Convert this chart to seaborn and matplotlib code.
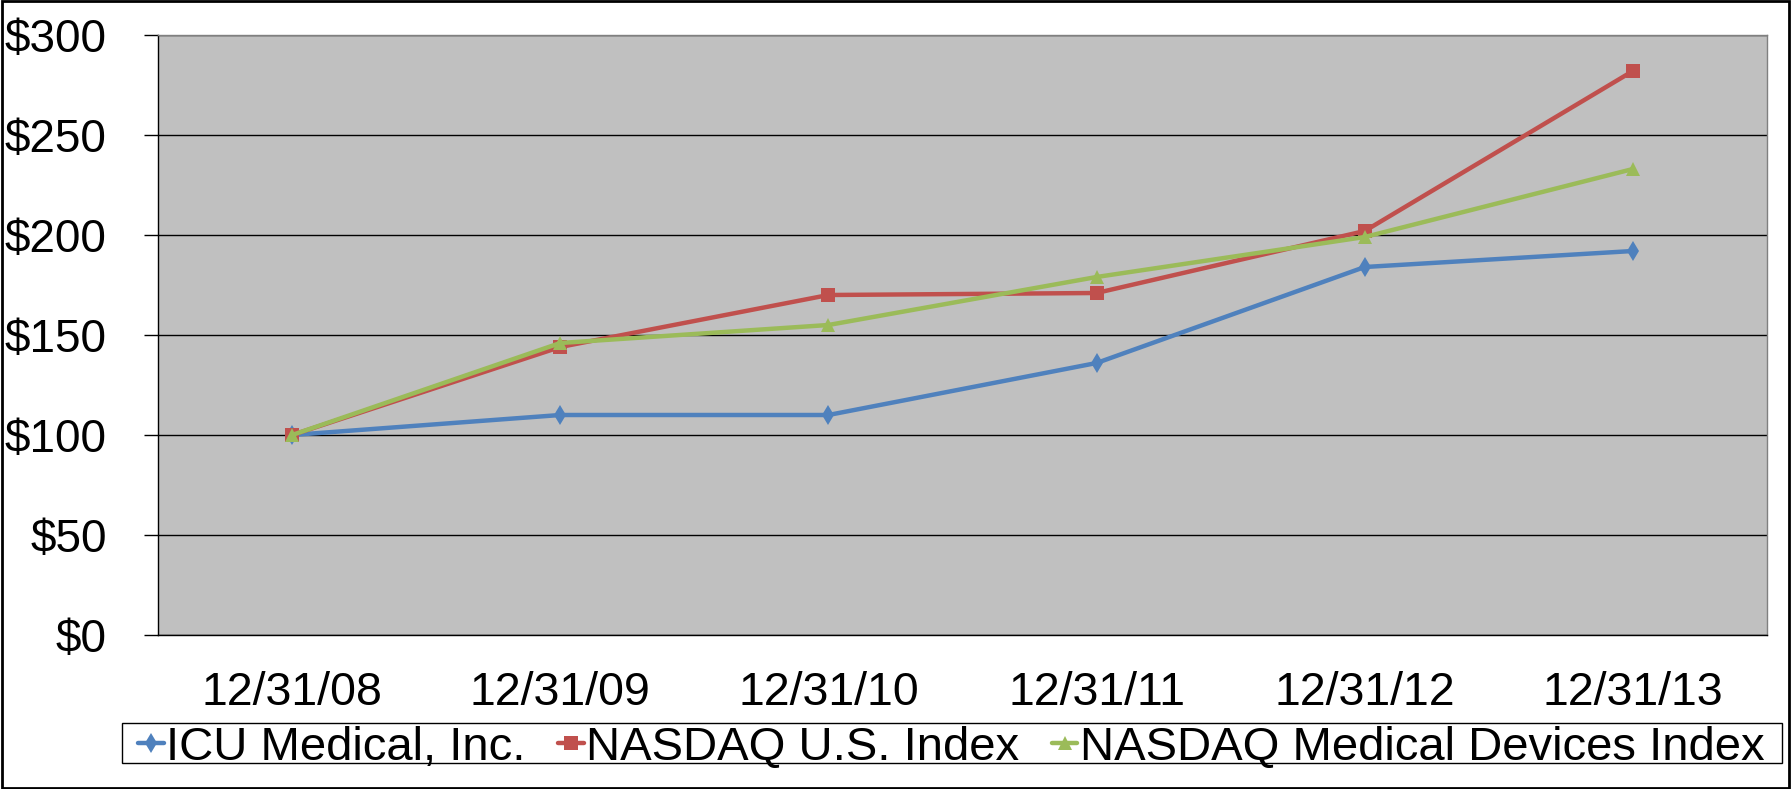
import numpy as np
import pandas as pd
import matplotlib.pyplot as plt
import seaborn as sns
from matplotlib.patches import Rectangle

dates = ['12/31/08', '12/31/09', '12/31/10', '12/31/11', '12/31/12', '12/31/13']
icu = [100, 110, 110, 136, 184, 192]
nasdaq_us = [100, 144, 170, 171, 202, 282]
nasdaq_med = [100, 146, 155, 179, 199, 233]

series = ['ICU Medical, Inc.', 'NASDAQ U.S. Index', 'NASDAQ Medical Devices Index']
colors = ['#4F81BD', '#C0504D', '#9BBB59']
markers = ['d', 's', '^']

data = pd.DataFrame({
    'date': dates * 3,
    'value': icu + nasdaq_us + nasdaq_med,
    'series': [series[0]] * 6 + [series[1]] * 6 + [series[2]] * 6,
})

sns.set_style('white')
plt.rcParams['font.family'] = ['Liberation Sans', 'DejaVu Sans']
plt.rcParams['text.color'] = 'black'
plt.rcParams['xtick.color'] = 'black'
plt.rcParams['ytick.color'] = 'black'
plt.rcParams['xtick.labelcolor'] = 'black'
plt.rcParams['ytick.labelcolor'] = 'black'

fig = plt.figure(figsize=(17.91, 7.89), dpi=100)
ax = fig.add_axes([158 / 1791, 1 - 635 / 789, (1767 - 158) / 1791, 600 / 789])

sns.lineplot(data=data, x='date', y='value', hue='series', style='series',
             hue_order=series, style_order=series,
             palette=dict(zip(series, colors)), markers=dict(zip(series, markers)),
             dashes=False, linewidth=3.2, markersize=10, markeredgewidth=0,
             ax=ax, zorder=3)

ax.set_facecolor('#C0C0C0')
ax.set_ylim(0, 300)
ax.set_xlim(-0.5, 5.5)
ax.set_yticks(np.arange(0, 301, 50))
ax.set_yticklabels(['$' + str(v) for v in range(0, 301, 50)], fontsize=33)
ax.set_xticks(range(6))
ax.set_xticklabels(dates, fontsize=33.5)
ax.set_xticks(np.arange(-0.5, 6, 1), minor=True)
ax.tick_params(axis='x', which='major', length=0, pad=26)
ax.tick_params(axis='x', which='minor', length=10, width=1, color='black', direction='out')
ax.tick_params(axis='y', length=10, width=1, color='black', direction='out', pad=27, left=True)
ax.grid(axis='y', color='black', linewidth=1)
ax.set_axisbelow(True)
ax.set_xlabel('')
ax.set_ylabel('')
for s in ['left', 'bottom']:
    ax.spines[s].set_color('black')
    ax.spines[s].set_linewidth(1)
for s in ['top', 'right']:
    ax.spines[s].set_color('#808080')
    ax.spines[s].set_linewidth(1)

handles, labels = ax.get_legend_handles_labels()
ax.get_legend().remove()
fig.legend(handles, labels, loc='center left', bbox_to_anchor=(138 / 1791, 0.052),
           ncol=3, frameon=False, fontsize=34, handlelength=0.55, handletextpad=0.05,
           columnspacing=0.68, borderpad=0, borderaxespad=0, labelcolor='black')

fig.add_artist(Rectangle((122 / 1791, 26 / 789), 1660 / 1791, 40 / 789,
                         transform=fig.transFigure, fill=False, edgecolor='black', linewidth=1))
fig.add_artist(Rectangle((0.001, 0.001), 0.998, 0.998, transform=fig.transFigure,
                         fill=False, edgecolor='black', linewidth=2))

fig.savefig('out.png', dpi=100)
